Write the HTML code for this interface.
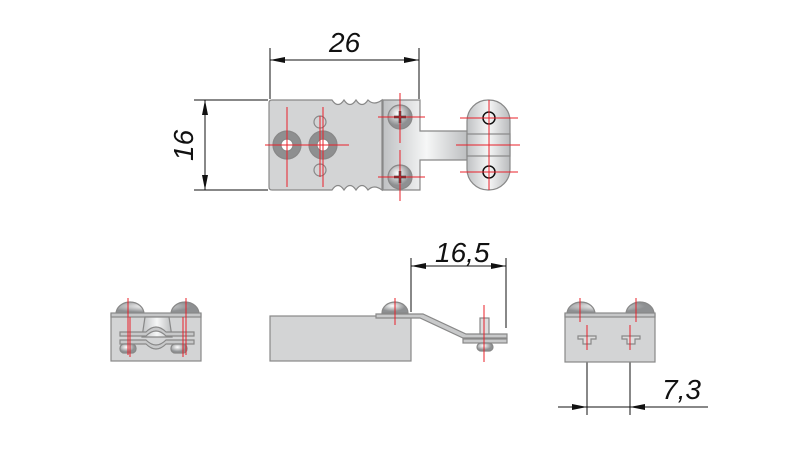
<!DOCTYPE html><html><head><style>body{margin:0;background:#fff}svg{display:block}text{font-family:"Liberation Sans",sans-serif;font-style:italic;font-size:28px;fill:#111}</style></head><body>
<svg width="800" height="450" viewBox="0 0 800 450" xmlns="http://www.w3.org/2000/svg">
<defs>
<linearGradient id="m" x1="0" x2="1"><stop offset="0" stop-color="#bfc1c3"/><stop offset=".5" stop-color="#f6f7f7"/><stop offset="1" stop-color="#b9bbbd"/></linearGradient>
<radialGradient id="s" cx=".4" cy=".35"><stop offset="0" stop-color="#fff"/><stop offset="1" stop-color="#8e9092"/></radialGradient>
<marker id="a" markerWidth="15" markerHeight="6" refX="15" refY="3" orient="auto-start-reverse" markerUnits="userSpaceOnUse"><path d="M0,0L15,3L0,6z" fill="#111"/></marker>
</defs>
<g stroke="#111" stroke-width="1" fill="none">
<line x1="270" y1="48" x2="270" y2="99"/><line x1="419" y1="48" x2="419" y2="99"/>
<line x1="270" y1="60" x2="419" y2="60" marker-start="url(#a)" marker-end="url(#a)"/>
<line x1="194" y1="100" x2="268" y2="100"/><line x1="194" y1="190" x2="268" y2="190"/>
<line x1="205" y1="100" x2="205" y2="190" marker-start="url(#a)" marker-end="url(#a)"/>
<line x1="411" y1="258" x2="411" y2="312"/><line x1="506" y1="258" x2="506" y2="328"/>
<line x1="411" y1="266" x2="506" y2="266" marker-start="url(#a)" marker-end="url(#a)"/>
<line x1="587" y1="325" x2="587" y2="415"/><line x1="630" y1="325" x2="630" y2="415"/>
<line x1="558" y1="407" x2="587" y2="407" marker-end="url(#a)"/><line x1="708" y1="407" x2="630" y2="407" marker-end="url(#a)"/>
<line x1="587" y1="407" x2="630" y2="407"/>
</g>
<text x="329" y="52">26</text>
<text x="435" y="262">16,5</text>
<text x="662" y="399">7,3</text>
<text transform="translate(193,161) rotate(-90)">16</text>
<g stroke="#888" stroke-width="1.2">
<path d="M272,100H332q6,9 12,0q6,9 12,0q6,9 12,0q6,6 14,0V190q-8,-6 -14,0q-6,-9 -12,0q-6,-9 -12,0q-6,-9 -12,0H272q-3,0 -3,-3V103q0,-3 3,-3z" fill="#d3d4d5"/>
<path d="M383,100H420V131H470V160H420V190H383z" fill="url(#m)"/>
<rect x="467" y="100" width="43" height="90" rx="21" fill="url(#m)"/>
<rect x="467" y="134" width="43" height="22" fill="url(#m)"/>
<circle cx="287" cy="145" r="14" fill="#8e8f90"/><circle cx="323" cy="145" r="14" fill="#8e8f90"/>
<circle cx="287" cy="145" r="6" fill="#fff"/><circle cx="323" cy="145" r="6" fill="#fff"/>
<circle cx="320" cy="122" r="6" fill="none"/><circle cx="320" cy="170" r="6" fill="none"/>
<circle cx="400" cy="117" r="12" fill="url(#s)"/><circle cx="400" cy="177" r="12" fill="url(#s)"/>
</g>
<g stroke="#333" stroke-width="2.5"><path d="M394,117h12M400,111v12M394,177h12M400,171v12"/></g>
<circle cx="489" cy="118" r="6" fill="none" stroke="#111" stroke-width="1.5"/><circle cx="489" cy="172" r="6" fill="none" stroke="#111" stroke-width="1.5"/>
<g stroke="#888" stroke-width="1.2">
<rect x="111" y="314" width="90" height="47" fill="#d3d4d5"/>
<path d="M116,314a14,12 0 0 1 28,0z M171,314a14,12 0 0 1 28,0z" fill="url(#s)"/>
<rect x="111" y="313" width="90" height="4" fill="#c6c7c8"/>
<path d="M145,317h24l3,20h-30z" fill="url(#m)"/>
<path d="M120,332h26q10,-10 20,0h28v4h-28q-10,-10 -20,0h-26z" fill="#c8c9ca"/>
<path d="M120,340h26q10,10 20,0h28v4h-28q-10,10 -20,0h-26z" fill="#c8c9ca"/>
<rect x="120" y="344" width="16" height="9" rx="4" fill="url(#s)"/><rect x="171" y="344" width="16" height="9" rx="4" fill="url(#s)"/>
<rect x="270" y="316" width="141" height="45" fill="#d3d4d5"/>
<path d="M382,313a13,11 0 0 1 26,0z" fill="url(#s)"/>
<path d="M376,314H423L466,334H507V338H463L420,318H376z" fill="#c8c9ca"/>
<rect x="463" y="339" width="44" height="4" fill="#c8c9ca"/>
<rect x="480" y="318" width="9" height="16" fill="#ddd"/>
<rect x="477" y="343" width="16" height="8" rx="4" fill="url(#s)"/>
<rect x="565" y="314" width="90" height="48" fill="#d3d4d5"/>
<path d="M567,314a14,12 0 0 1 28,0z M626,314a14,12 0 0 1 28,0z" fill="url(#s)"/>
<rect x="565" y="313" width="90" height="4" fill="#c6c7c8"/>
<path d="M578,336h18v3h-5v5h-8v-5h-5z M622,336h18v3h-5v5h-8v-5h-5z" fill="#ddd"/>
</g>
<g stroke="#e8202a" stroke-width="1">
<path d="M287,107V187M323,107V187M265,145H349M378,117H425M400,93V143M378,177H425M400,150V201M489,100V190M460,118H518M460,172H518M456,145H520M320,116V177"/>
<path d="M128,298V355M186,298V355M130,317V357M183,317V357M395,298V325M484,305V362M580,298V322M636,298V322M587,325V350M630,325V350"/>
</g>
</svg></body></html>
